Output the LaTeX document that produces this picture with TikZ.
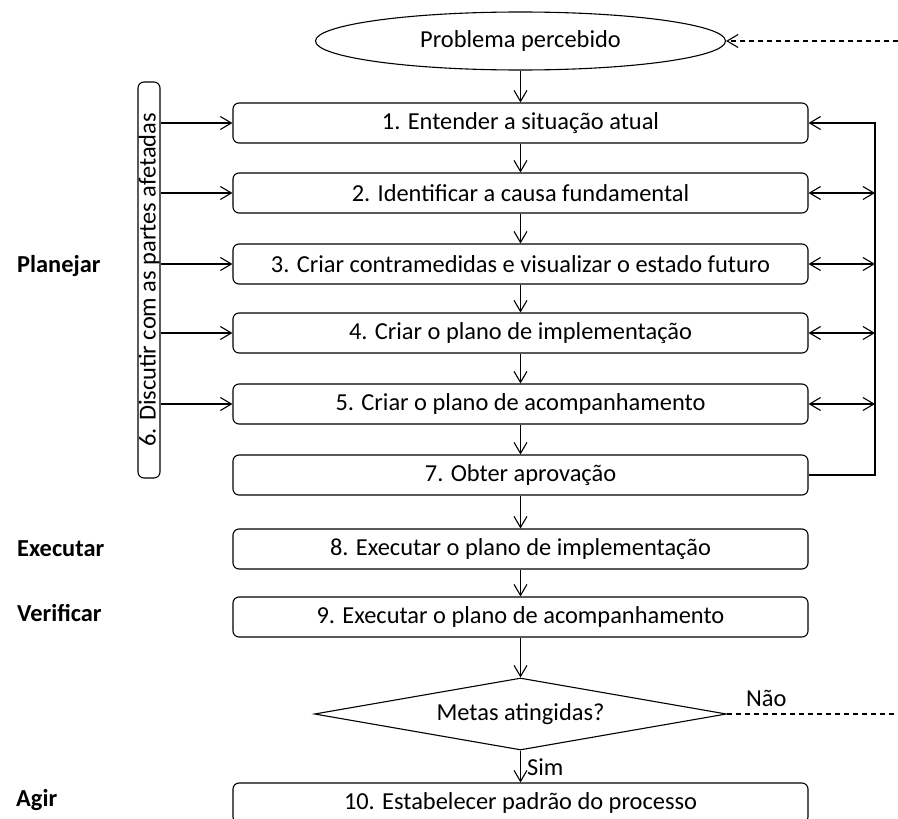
\documentclass[tikz,border=0pt]{standalone}
\usepackage{fontspec}
\setmainfont{Carlito}
\usetikzlibrary{arrows.meta,shapes.geometric}
\begin{document}
\begin{tikzpicture}[x=1pt,y=-1pt,
  every node/.style={font=\fontsize{24.4}{29}\selectfont},
  line/.style={line width=1.1pt},
  stepbox/.style={line, draw, rounded corners=6pt, minimum width=575pt,
    minimum height=40pt, inner sep=0pt},
  flow/.style={line, -{Straight Barb[length=11pt,width=13pt]}},
  twoway/.style={line, {Straight Barb[length=11pt,width=13pt]}-{Straight Barb[length=11pt,width=13pt]}},
  phase/.style={font=\fontsize{24.4}{29}\selectfont\bfseries, anchor=west, inner sep=0pt},
  loose/.style={dashed, dash pattern=on 5pt off 4pt},
]
\useasboundingbox (0,0) rectangle (898,819);

% start
\node[line, draw, ellipse, minimum width=410pt, minimum height=58pt, inner sep=0pt]
  (prob) at (520.5,41) {Problema percebido};

% main steps
\node[stepbox] (s1)  at (520.5,123) {1. Entender a situação atual};
\node[stepbox] (s2)  at (520.5,193) {2. Identificar a causa fundamental};
\node[stepbox] (s3)  at (520.5,264) {3. Criar contramedidas e visualizar o estado futuro};
\node[stepbox] (s4)  at (520.5,333) {4. Criar o plano de implementação};
\node[stepbox] (s5)  at (520.5,404) {5. Criar o plano de acompanhamento};
\node[stepbox] (s7)  at (520.5,475) {7. Obter aprovação};
\node[stepbox] (s8)  at (520.5,549) {8. Executar o plano de implementação};
\node[stepbox] (s9)  at (520.5,617) {9. Executar o plano de acompanhamento};
\node[line, draw, diamond, aspect=5.72, minimum width=412pt, minimum height=72pt, inner sep=0pt]
  (goal) at (520.5,714) {Metas atingidas?};
\node[stepbox] (s10) at (520.5,803) {10. Estabelecer padrão do processo};

% side step: discussion with stakeholders
\node[line, draw, rounded corners=6pt, minimum width=22pt, minimum height=396pt, inner sep=0pt]
  (disc) at (149,280) {};
\node[rotate=90, inner sep=0pt] (discText) at (disc.center) {6. Discutir com as partes afetadas};

% phase labels
\node[phase] (plan) at (17,266) {Planejar};
\node[phase] (exec) at (17,549) {Executar};
\node[phase] (check) at (17,613) {Verificar};
\node[phase] (act) at (16,800) {Agir};

% main flow
\draw[flow] (prob) -- (s1);
\draw[flow] (s1) -- (s2);
\draw[flow] (s2) -- (s3);
\draw[flow] (s3) -- (s4);
\draw[flow] (s4) -- (s5);
\draw[flow] (s5) -- (s7);
\draw[flow] (s7) -- (s8);
\draw[flow] (s8) -- (s9);
\draw[flow] (s9) -- (goal);
\draw[flow] (goal) -- node[right, inner sep=6pt, pos=0.52] (yes) {Sim} (s10);

% discussion feeds steps 1-5
\foreach \s in {s1,s2,s3,s4,s5}
  \draw[flow] (\s.west -| disc.east) -- (\s.west);

% feedback loop on the right
\coordinate (rail) at (875,0);
\draw[flow] (s7.east) -- (s7.east -| rail) -- (s1.east -| rail) -- (s1.east);
\foreach \s in {s2,s3,s4,s5}
  \draw[twoway] (\s.east) -- (\s.east -| rail);

% restart when goals are not met
\coordinate (backIn) at (898,41);
\coordinate (backOut) at (898,714);
\draw[flow, loose] (backIn) -- (prob.east);
\draw[line, loose] (goal.east) -- node[above, pos=0.23, inner sep=7pt] (no) {Não} (backOut);
\end{tikzpicture}
\end{document}
